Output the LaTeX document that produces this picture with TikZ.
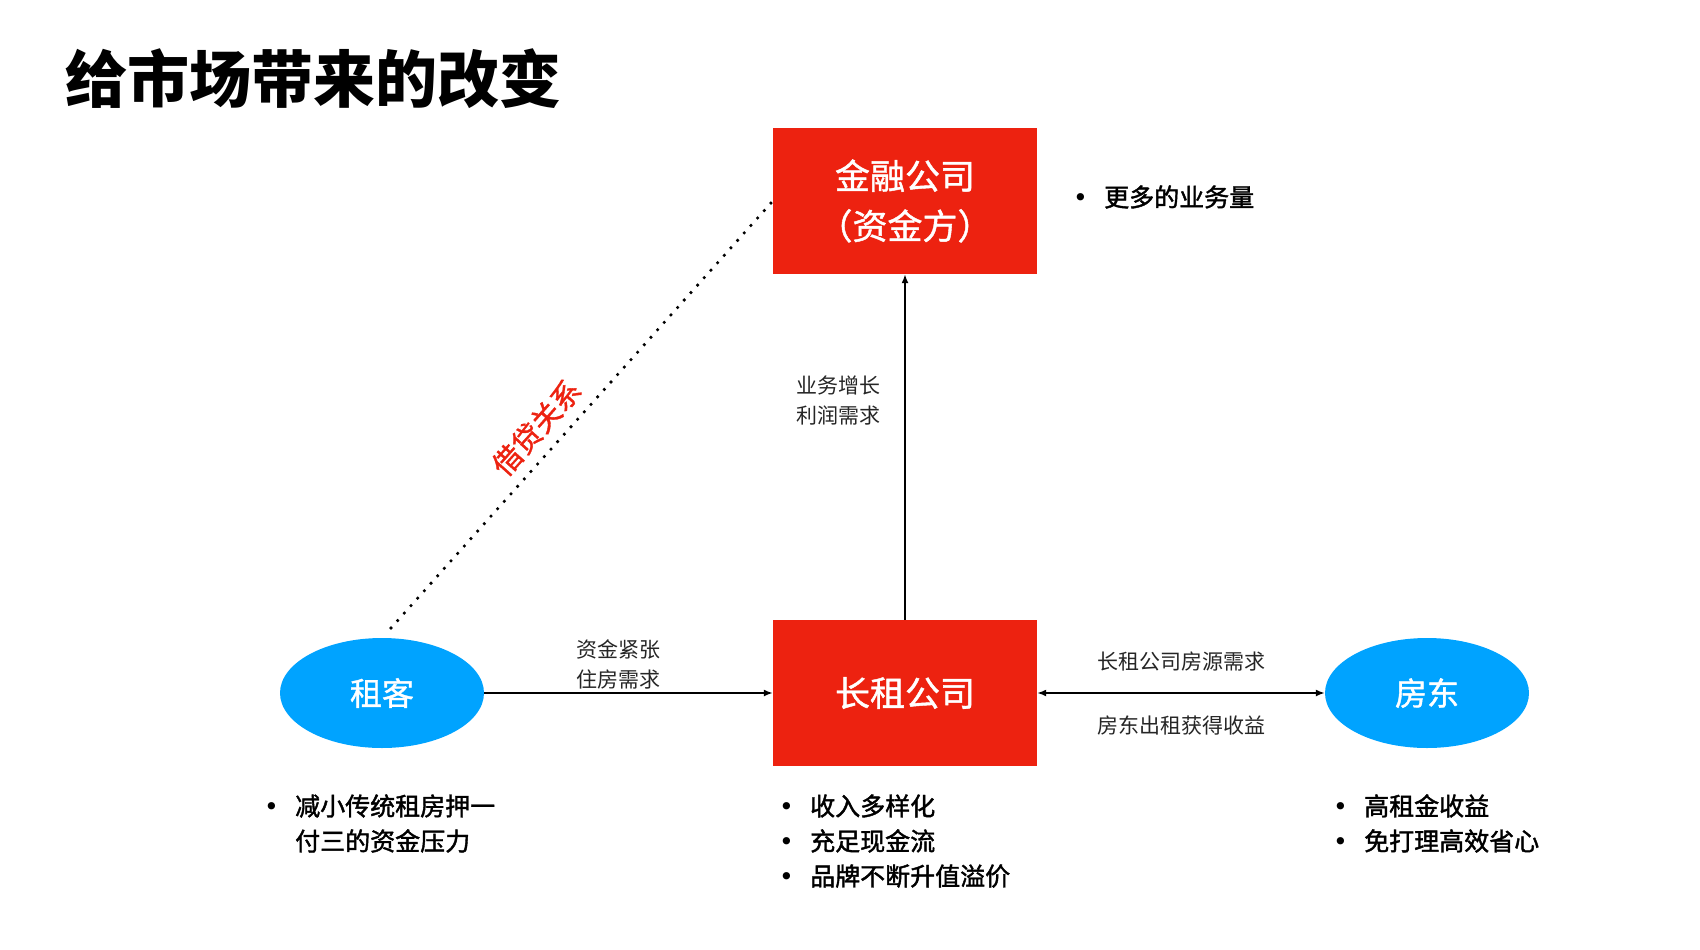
\documentclass[tikz,border=0pt]{standalone}
\usepackage{fontspec}
\setmainfont{Noto Sans CJK SC}
\newfontfamily\medfont[FakeBold=1.6]{Noto Sans CJK SC}
\newfontfamily\semifont[FakeBold=1.2]{Noto Sans CJK SC}
\newfontfamily\symfont{DejaVu Sans}
\usetikzlibrary{shapes.geometric,arrows.meta}
\definecolor{boxred}{RGB}{237,34,16}
\definecolor{ellblue}{RGB}{0,163,255}
\newcommand{\bul}{\makebox[31pt][l]{\symfont\mdseries •}}
\begin{document}
\begin{tikzpicture}[x=1pt,y=-1pt,
  redbox/.style={rectangle, fill=boxred, minimum width=264pt, minimum height=146pt, inner sep=0pt, text=white, align=center, font=\semifont\fontsize{35}{50}\selectfont},
  ellnode/.style={ellipse, fill=ellblue, minimum width=204pt, minimum height=110pt, inner sep=0pt, text=white, font=\semifont\fontsize{32}{38}\selectfont},
  arr/.style={line width=1.6pt, -{Latex[length=9pt,width=7pt]}},
  dblarr/.style={line width=1.6pt, {Latex[length=9pt,width=7pt]}-{Latex[length=9pt,width=7pt]}},
  lbl/.style={font=\fontsize{21}{30}\selectfont, align=center, inner sep=0pt, text=black!85},
  bullets/.style={font=\medfont\fontsize{25}{35}\selectfont, inner sep=0pt, anchor=base west},
  loan/.style={line width=3.6pt, line cap=round, dash pattern=on 0pt off 10pt}
]
\useasboundingbox (0,0) rectangle (1700,950);
\fill[white] (0,0) rectangle (1700,950);

% title
\node[anchor=base west, inner sep=0pt, font=\bfseries\fontsize{62}{70}\selectfont] (title) at (65,102) {给市场带来的改变};

% main nodes
\node[redbox] (fin) at (905,201) {金融公司\\（资金方）};
\node[redbox] (lease) at (905,693) {长租公司};
\node[ellnode] (tenant) at (382,693) {租客};
\node[ellnode] (owner) at (1427,693) {房东};

% connectors
\draw[arr] (lease.north) -- (fin.south)
  node[midway, lbl, xshift=-67pt, yshift=46pt] (lblfin) {业务增长\\利润需求};
\draw[arr] (tenant.east) -- (lease.west)
  node[midway, lbl, xshift=-10pt, yshift=29pt] (lbltenant) {资金紧张\\住房需求};
\draw[dblarr] (lease.east) -- (owner.west)
  node[midway, lbl, yshift=31pt] (lblup) {长租公司房源需求}
  node[midway, lbl, yshift=-32pt] (lbldown) {房东出租获得收益};

\coordinate (dotstart) at (391,628);
\draw[loan] (dotstart) -- (fin.west)
  node[pos=0.43, sloped, above=10pt, inner sep=0pt, text=boxred, font=\semifont\fontsize{29}{32}\selectfont] (loanlbl) {借贷关系};

% bullet lists
\node[bullets] (finlist) at (1073,206.5) {\begin{tabular}[t]{@{}l@{}l@{}}\bul & 更多的业务量\end{tabular}};
\node[bullets] (tenantlist) at (264,815.5) {\begin{tabular}[t]{@{}l@{}l@{}}\bul & 减小传统租房押一\\ & 付三的资金压力\end{tabular}};
\node[bullets] (leaselist) at (779,815.5) {\begin{tabular}[t]{@{}l@{}l@{}}\bul & 收入多样化\\ \bul & 充足现金流\\ \bul & 品牌不断升值溢价\end{tabular}};
\node[bullets] (ownerlist) at (1333,815.5) {\begin{tabular}[t]{@{}l@{}l@{}}\bul & 高租金收益\\ \bul & 免打理高效省心\end{tabular}};
\end{tikzpicture}
\end{document}
